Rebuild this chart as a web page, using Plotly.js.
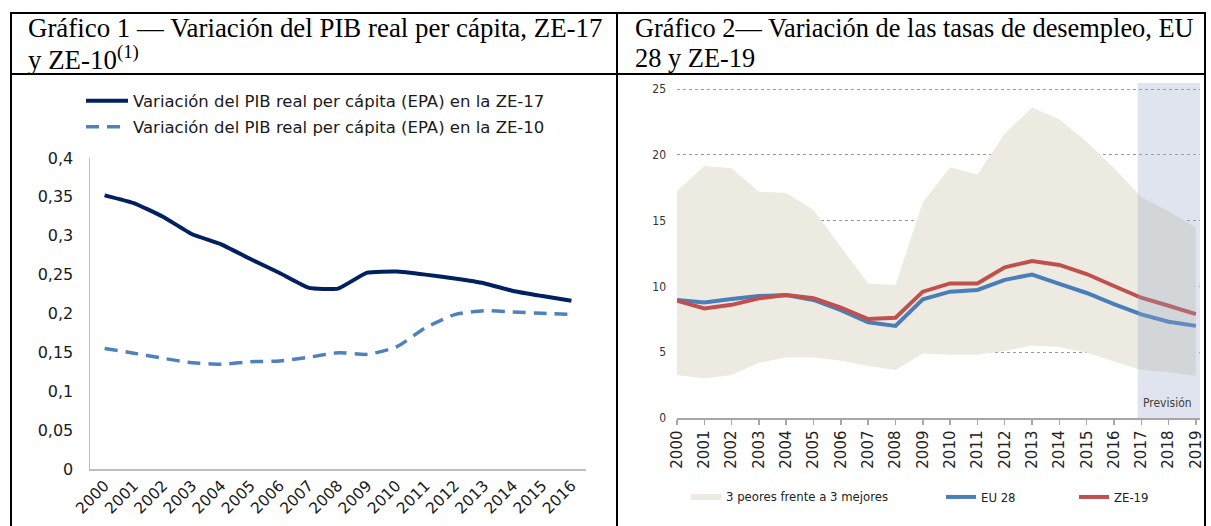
<!DOCTYPE html>
<html>
<head>
<meta charset="utf-8">
<script src="https://cdn.plot.ly/plotly-3.0.1.min.js"></script>
<style>
html,body{margin:0;padding:0;background:#fff;}
#chart{width:1211px;height:526px;}
</style>
</head>
<body>
<div id="chart"></div>
<script>
// ---------- Data: Gráfico 1 ----------
const years1 = ['2000','2001','2002','2003','2004','2005','2006','2007','2008','2009','2010','2011','2012','2013','2014','2015','2016'];
const pibZE17 = [0.352,0.342,0.3245,0.302,0.289,0.270,0.252,0.233,0.232,0.2525,0.254,0.250,0.245,0.239,0.229,0.2225,0.2165];
const pibZE10 = [0.155,0.149,0.1424,0.1367,0.1347,0.138,0.139,0.1437,0.1496,0.1475,0.157,0.1817,0.1985,0.2036,0.2019,0.2003,0.199];
const name17 = 'Variación del PIB real per cápita (EPA) en la ZE-17';
const name10 = 'Variación del PIB real per cápita (EPA) en la ZE-10';

// ---------- Data: Gráfico 2 ----------
const years2 = [2000,2001,2002,2003,2004,2005,2006,2007,2008,2009,2010,2011,2012,2013,2014,2015,2016,2017,2018,2019];
const peores3 = [17.25,19.15,18.97,17.2,17.1,15.8,13.0,10.23,10.1,16.4,19.05,18.5,21.6,23.6,22.7,21.0,19.0,16.8,15.7,14.5];
const mejores3 = [3.27,3.0,3.27,4.2,4.6,4.6,4.35,3.95,3.65,4.9,4.8,4.8,5.1,5.5,5.4,4.95,4.3,3.65,3.5,3.2];
const eu28 = [8.97,8.77,9.04,9.27,9.35,8.97,8.2,7.27,7.0,9.02,9.6,9.73,10.5,10.9,10.2,9.5,8.66,7.88,7.32,7.0];
const ze19 = [8.92,8.33,8.6,9.1,9.35,9.1,8.38,7.52,7.62,9.6,10.23,10.23,11.45,11.93,11.63,10.94,10.03,9.14,8.53,7.9];
const forecastStart = 2017;
const forecastLabel = 'Previsión';

const title1a = 'Gráfico 1 — Variación del PIB real per cápita, ZE-17';
const title1b = 'y ZE-10<sup>(1)</sup>';
const title2a = 'Gráfico 2— Variación de las tasas de desempleo, EU';
const title2b = '28 y ZE-19';

// ---------- Layout helpers ----------
const W = 1211, H = 526;
const px = v => v / W;
const py = v => 1 - v / H;
const SANS = 'DejaVu Sans, Verdana, sans-serif';
const COND = 'DejaVu Sans Condensed, Liberation Sans Narrow, Arial Narrow, DejaVu Sans, sans-serif';
const SERIF = 'Liberation Serif, Times New Roman, serif';

const traces = [
  {x: years1, y: pibZE17, type: 'scatter', mode: 'lines', name: name17,
   line: {color: '#002060', width: 4, shape: 'spline', smoothing: 0.4},
   xaxis: 'x', yaxis: 'y', legend: 'legend', hoverinfo: 'skip'},
  {x: years1, y: pibZE10, type: 'scatter', mode: 'lines', name: name10,
   line: {color: '#4F81BD', width: 3.5, dash: '13px,8px', shape: 'spline', smoothing: 0.6},
   xaxis: 'x', yaxis: 'y', legend: 'legend2', hoverinfo: 'skip'},
  {x: years2, y: mejores3, type: 'scatter', mode: 'lines', line: {width: 0, color: 'rgba(0,0,0,0)'},
   showlegend: false, xaxis: 'x2', yaxis: 'y2', hoverinfo: 'skip'},
  {x: years2, y: peores3, type: 'scatter', mode: 'lines', fill: 'tonexty', fillcolor: '#EDEBE1',
   line: {width: 0, color: '#EDEBE1'}, name: '3 peores frente a 3 mejores',
   xaxis: 'x2', yaxis: 'y2', legend: 'legend3', hoverinfo: 'skip'},
  {x: years2, y: eu28, type: 'scatter', mode: 'lines', name: 'EU 28',
   line: {color: '#4A7EBB', width: 4}, xaxis: 'x2', yaxis: 'y2', legend: 'legend4', hoverinfo: 'skip'},
  {x: years2, y: ze19, type: 'scatter', mode: 'lines', name: 'ZE-19',
   line: {color: '#C0504D', width: 4}, xaxis: 'x2', yaxis: 'y2', legend: 'legend5', hoverinfo: 'skip'}
];

const legBase = {bgcolor: 'rgba(0,0,0,0)', borderwidth: 0, xanchor: 'left', yanchor: 'middle', orientation: 'v'};

const borderLine = (x0, y0, x1, y1) => ({type: 'line', xref: 'paper', yref: 'paper',
  x0: px(x0), y0: py(y0), x1: px(x1), y1: py(y1), line: {color: '#000', width: 2}});

const layout = {
  width: W, height: H,
  margin: {l: 0, r: 0, t: 0, b: 0, pad: 0},
  paper_bgcolor: '#fff', plot_bgcolor: 'rgba(0,0,0,0)',
  separators: ', ',
  font: {family: SANS, color: '#222'},
  showlegend: true,
  xaxis: {domain: [px(90), px(586)], type: 'category', range: [-0.5, 16.5],
    showline: true, linecolor: '#BFBFBF', linewidth: 1.5, ticks: '', showgrid: false, zeroline: false,
    tickangle: -45, tickfont: {family: SANS, size: 15.5, color: '#1a1a1a'}, anchor: 'y', fixedrange: true},
  yaxis: {domain: [py(469), py(158)], range: [0, 0.4], dtick: 0.05, tick0: 0,
    showline: true, linecolor: '#BFBFBF', linewidth: 1.5, ticks: '', showgrid: false, zeroline: false,
    ticklabelstandoff: 12, tickfont: {family: SANS, size: 16, color: '#1a1a1a'}, anchor: 'x', fixedrange: true},
  xaxis2: {domain: [px(677), px(1200)], range: [2000, 2019.15], dtick: 1, tick0: 2000,
    showline: true, linecolor: '#A6A6A6', linewidth: 1.5, ticks: 'outside', ticklen: 5, tickcolor: '#A6A6A6', tickwidth: 1.5,
    showgrid: false, zeroline: false, tickangle: -90,
    tickfont: {family: SANS, size: 15, color: '#222'}, anchor: 'y2', fixedrange: true},
  yaxis2: {domain: [py(418), py(83.1)], range: [0, 25.45], dtick: 5, tick0: 0,
    showline: false, showgrid: true, gridcolor: '#9A9A9A', gridwidth: 1, griddash: 'dot', zeroline: false,
    ticks: '', ticklabelstandoff: 10, tickfont: {family: COND, size: 12, color: '#333'}, anchor: 'x2', fixedrange: true},
  legend: Object.assign({}, legBase, {x: px(81), y: py(101), itemwidth: 42, font: {family: SANS, size: 16.5, color: '#1a1a1a'}}),
  legend2: Object.assign({}, legBase, {x: px(81), y: py(127), itemwidth: 42, font: {family: SANS, size: 16.5, color: '#1a1a1a'}}),
  legend3: Object.assign({}, legBase, {x: px(686), y: py(496), font: {family: COND, size: 13, color: '#222'}}),
  legend4: Object.assign({}, legBase, {x: px(941), y: py(497), font: {family: COND, size: 13, color: '#222'}}),
  legend5: Object.assign({}, legBase, {x: px(1074), y: py(497), font: {family: COND, size: 13, color: '#222'}}),
  shapes: [
    {type: 'rect', xref: 'x2', yref: 'y2', x0: forecastStart - 0.13, x1: 2019.15, y0: 0, y1: 25.45,
     fillcolor: 'rgba(152,165,198,0.3)', line: {width: 0}, layer: 'above'},
    borderLine(11, 13, 1205, 13),
    borderLine(11, 74, 1205, 74),
    borderLine(11, 12, 11, 526),
    borderLine(617, 12, 617, 526),
    borderLine(1205, 12, 1205, 526)
  ],
  annotations: [
    {xref: 'paper', yref: 'paper', x: px(26), y: py(28), xanchor: 'left', yanchor: 'middle', showarrow: false,
     text: title1a, font: {family: SERIF, size: 26.9, color: '#000'}},
    {xref: 'paper', yref: 'paper', x: px(26), y: py(58), xanchor: 'left', yanchor: 'middle', showarrow: false,
     text: title1b, font: {family: SERIF, size: 26.9, color: '#000'}},
    {xref: 'paper', yref: 'paper', x: px(633), y: py(28), xanchor: 'left', yanchor: 'middle', showarrow: false,
     text: title2a, font: {family: SERIF, size: 26.4, color: '#000'}},
    {xref: 'paper', yref: 'paper', x: px(633), y: py(58), xanchor: 'left', yanchor: 'middle', showarrow: false,
     text: title2b, font: {family: SERIF, size: 26.4, color: '#000'}},
    {xref: 'x2', yref: 'y2', x: 2017.95, y: 1.15, xanchor: 'center', yanchor: 'middle', showarrow: false,
     text: forecastLabel, font: {family: COND, size: 12, color: '#404040'}}
  ]
};

Plotly.newPlot('chart', traces, layout, {staticPlot: true, displayModeBar: false});
</script>
</body>
</html>
